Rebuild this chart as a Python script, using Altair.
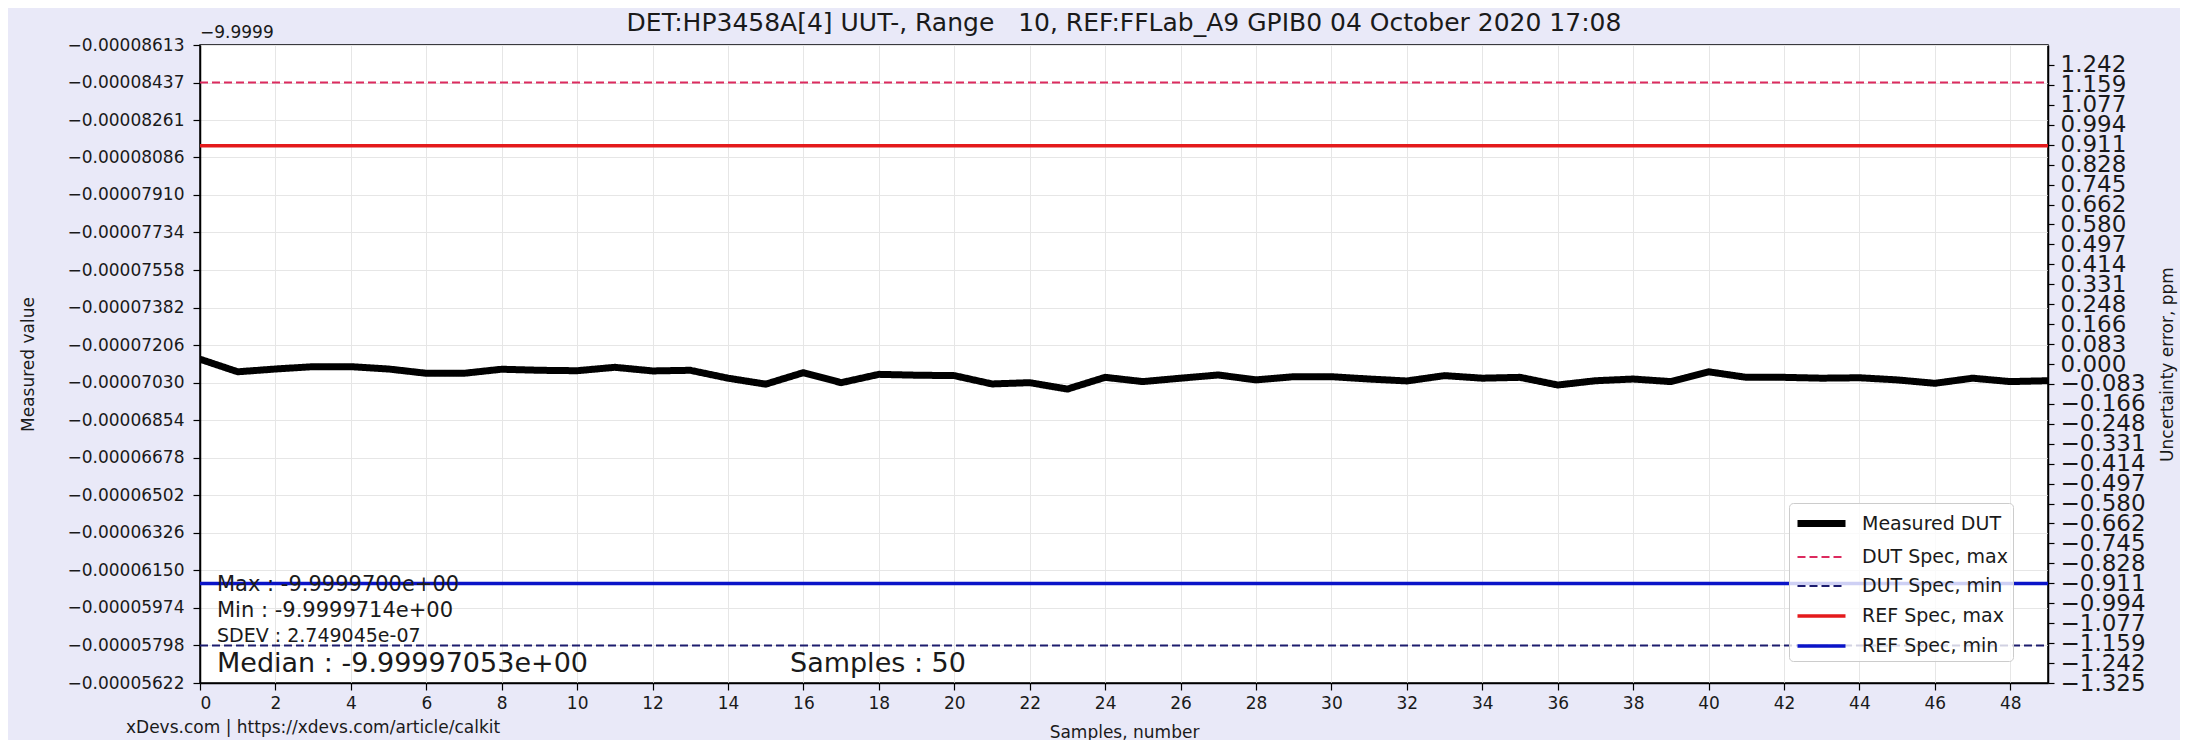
import altair as alt
import pandas as pd

# ---------------- data ----------------
samples = list(range(50))
measured = [
    -7.140e-05, -7.081e-05, -7.094e-05, -7.105e-05, -7.105e-05,
    -7.094e-05, -7.074e-05, -7.074e-05, -7.093e-05, -7.088e-05,
    -7.086e-05, -7.102e-05, -7.085e-05, -7.088e-05, -7.051e-05,
    -7.023e-05, -7.077e-05, -7.030e-05, -7.069e-05, -7.065e-05,
    -7.063e-05, -7.024e-05, -7.030e-05, -7.000e-05, -7.055e-05,
    -7.035e-05, -7.051e-05, -7.066e-05, -7.043e-05, -7.058e-05,
    -7.058e-05, -7.047e-05, -7.038e-05, -7.063e-05, -7.051e-05,
    -7.055e-05, -7.019e-05, -7.039e-05, -7.047e-05, -7.035e-05,
    -7.081e-05, -7.055e-05, -7.055e-05, -7.051e-05, -7.053e-05,
    -7.043e-05, -7.027e-05, -7.051e-05, -7.035e-05, -7.039e-05,
]
series_names = ["Measured DUT", "DUT Spec, max", "DUT Spec, min", "REF Spec, max", "REF Spec, min"]
spec_levels = {
    "DUT Spec, max": -8.437e-05,
    "DUT Spec, min": -5.798e-05,
    "REF Spec, max": -8.141e-05,
    "REF Spec, min": -6.089e-05,
}
series_colors = ["#000000", "#dc2a5e", "#1c1c6e", "#e41a1c", "#0a14c8"]
series_dash = [[1, 0], [8, 4], [8, 4], [1, 0], [1, 0]]
series_width = [7, 2, 2, 3.5, 3.5]

left_ticks = [-0.00008613, -0.00008437, -0.00008261, -0.00008086, -0.00007910, -0.00007734,
              -0.00007558, -0.00007382, -0.00007206, -0.00007030, -0.00006854, -0.00006678,
              -0.00006502, -0.00006326, -0.00006150, -0.00005974, -0.00005798, -0.00005622]
right_ticks = [-1.325, -1.242, -1.159, -1.077, -0.994, -0.911, -0.828, -0.745, -0.662, -0.580,
               -0.497, -0.414, -0.331, -0.248, -0.166, -0.083, 0.000, 0.083, 0.166, 0.248,
               0.331, 0.414, 0.497, 0.580, 0.662, 0.745, 0.828, 0.911, 0.994, 1.077, 1.159, 1.242]
x_ticks = list(range(0, 49, 2))

title_text = "DET:HP3458A[4] UUT-, Range \u00a0\u00a010, REF:FFLab_A9 GPIB0 04 October 2020 17:08"
offset_text = "\u22129.9999"
stat_max = "Max : -9.9999700e+00"
stat_min = "Min : -9.9999714e+00"
stat_sdev = "SDEV : 2.749045e-07"
stat_median = "Median : -9.99997053e+00"
stat_samples = "Samples : 50"
credit = "xDevs.com | https://xdevs.com/article/calkit"

# ---------------- build tables ----------------
rows = [{"sample": s, "value": v, "series": "Measured DUT"} for s, v in zip(samples, measured)]
for name, lvl in spec_levels.items():
    rows.append({"sample": 0, "value": lvl, "series": name})
    rows.append({"sample": 49, "value": lvl, "series": name})
df = pd.DataFrame(rows)
df_right = pd.DataFrame({"ppm": right_ticks})

FONT = "DejaVu Sans"
W, H = 1848, 638

lines = alt.Chart(df).mark_line(strokeJoin="round", clip=True).encode(
    x=alt.X("sample:Q", scale=alt.Scale(domain=[0, 49], nice=False, zero=False),
            axis=alt.Axis(values=x_ticks, title="Samples, number", grid=True, format="d",
                          labelFontSize=17, tickSize=7, labelPadding=5,
                          titleFontSize=17, titleFontWeight="normal",
                          titleX=W / 2, titleY=49, titleBaseline="middle")),
    y=alt.Y("value:Q", scale=alt.Scale(domain=[left_ticks[0], left_ticks[-1]], reverse=True,
                                        nice=False, zero=False),
            axis=alt.Axis(values=left_ticks, format=".8f", title="Measured value", grid=True,
                          labelFontSize=17, tickSize=7, labelPadding=9, labelOverlap=False,
                          labelFlush=False,
                          titleFontSize=17, titleFontWeight="normal",
                          titleX=-172, titleY=H / 2, titleAlign="center",
                          titleBaseline="middle", titleAngle=270)),
    color=alt.Color("series:N", scale=alt.Scale(domain=series_names, range=series_colors),
                    legend=alt.Legend(title=None)),
    strokeDash=alt.StrokeDash("series:N", scale=alt.Scale(type="ordinal", domain=series_names,
                                                          range=series_dash),
                              legend=alt.Legend(title=None)),
    strokeWidth=alt.StrokeWidth("series:N", scale=alt.Scale(type="ordinal", domain=series_names,
                                                            range=series_width),
                                legend=alt.Legend(title=None)),
    detail="series:N",
)

right_axis = alt.Chart(df_right).mark_point(opacity=0).encode(
    y=alt.Y("ppm:Q", scale=alt.Scale(domain=[-1.325, 1.325], nice=False, zero=False),
            axis=alt.Axis(orient="right", values=right_ticks, format=".3f", grid=False,
                          title="Uncertainty error, ppm", labelFontSize=23, tickSize=6,
                          labelPadding=6, labelOverlap=False, labelFlush=False,
                          titleFontSize=17, titleFontWeight="normal",
                          titleX=119, titleY=H / 2, titleAlign="center",
                          titleBaseline="middle", titleAngle=270)),
)


def txt(label, x, y, size, align="left"):
    return alt.Chart(pd.DataFrame({"t": [label]})).mark_text(
        align=align, baseline="alphabetic", font=FONT, fontSize=size, color="#1a1a1a"
    ).encode(text="t:N", x=alt.value(x), y=alt.value(y))


texts = [
    txt(title_text, W / 2, -14, 25, align="center"),
    txt(offset_text, 0, -7, 17),
    txt(stat_max, 17, 546, 21),
    txt(stat_min, 17, 572, 21),
    txt(stat_sdev, 17, 597, 19),
    txt(stat_median, 17, 627, 27),
    txt(stat_samples, 590, 627, 27),
    txt(credit, -74, 688, 17),
]

chart = alt.layer(lines, right_axis, *texts).resolve_scale(y="independent").properties(
    width=W, height=H,
    autosize=alt.AutoSizeParams(type="none"),
    padding={"left": 192, "top": 37, "right": 132, "bottom": 57},
    background="#e9e9f8",
).configure_view(
    stroke="black", strokeWidth=1.5, fill="white"
).configure_axis(
    labelFont=FONT, titleFont=FONT, labelColor="#1a1a1a", titleColor="#1a1a1a",
    domainColor="black", tickColor="black", domainWidth=1.5, tickWidth=1.2,
    gridColor="#e6e6e6", gridWidth=1,
).configure_legend(
    orient="none", legendX=1589, legendY=458,
    fillColor="rgba(255,255,255,0.8)", strokeColor="#cccccc", cornerRadius=4,
    padding=5, rowPadding=6, labelFontSize=19, labelFont=FONT, labelColor="#1a1a1a",
    symbolType="M-2,0H2", symbolSize=576, symbolOffset=12, labelOffset=25,
)

chart.save("out.html", embed_options={"renderer": "svg", "actions": False})
